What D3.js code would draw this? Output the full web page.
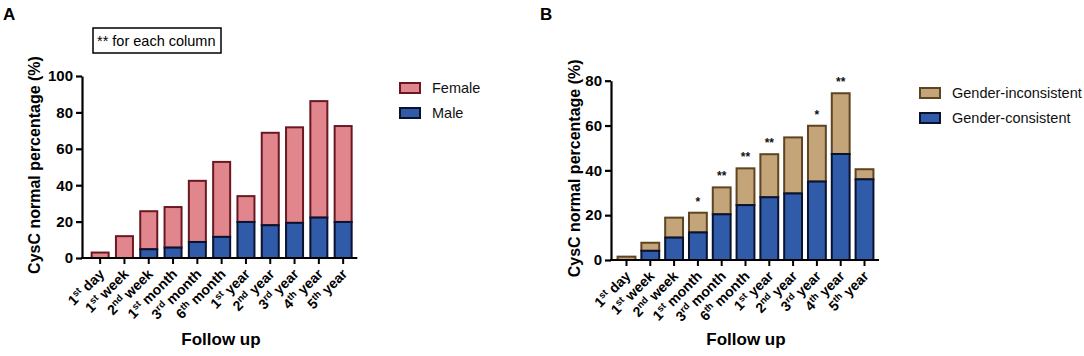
<!DOCTYPE html>
<html>
<head>
<meta charset="utf-8">
<script src="https://cdn.jsdelivr.net/npm/d3@7"></script>
<style>
  body { margin: 0; background: #ffffff; }
  svg { display: block; font-family: "Liberation Sans", Arial, sans-serif; }
</style>
</head>
<body>
<script>
// follow-up time points (shared by both panels)
const followUp = ["1st day", "1st week", "2nd week", "1st month", "3rd month", "6th month",
                  "1st year", "2nd year", "3rd year", "4th year", "5th year"];

// panel A: stacked segments
const maleA   = [0, 0, 4.8, 5.7, 8.8, 11.6, 19.8, 18, 19.3, 22.2, 19.8];
const femaleA = [3, 12, 20.9, 22.3, 33.6, 41.2, 14.2, 50.8, 52.5, 64, 52.7];
const ticksA  = [0, 20, 40, 60, 80, 100];

// panel B: stacked segments
const consistentB   = [0, 4.1, 10, 12.3, 20.4, 24.5, 28, 29.7, 35, 47.3, 36];
const inconsistentB = [1.5, 3.6, 8.9, 8.8, 12, 16.4, 19.2, 25, 24.9, 27.1, 4.5];
const starsB        = ["", "", "", "*", "**", "**", "**", "", "*", "**", ""];
const ticksB  = [0, 20, 40, 60, 80];

const W = 1084, H = 356;

const svg = d3.select("body").append("svg")
  .attr("width", W)
  .attr("height", H);

svg.append("rect").attr("width", W).attr("height", H).attr("fill", "#fff");

// ------------------
// one stacked-bar panel
// ------------------
function drawPanel(o) {
  const g = svg.append("g");

  const x = d3.scaleBand()
    .domain(followUp)
    .range(o.xRange)
    .paddingInner(o.padInner)
    .paddingOuter(0.15);

  const y = d3.scaleLinear()
    .domain([0, o.yMax])
    .range([o.y0, o.yTop]);

  const rows = followUp.map((c, i) => ({ cat: c, low: o.low[i], high: o.high[i] }));
  const series = d3.stack().keys(["low", "high"])(rows);

  // upper segment first, so the lower segment's dark border sits on top
  [1, 0].forEach(k => {
    const s = o.styles[k];
    g.append("g")
      .selectAll("rect")
      .data(series[k])
      .join("rect")
      .attr("x", d => x(d.data.cat))
      .attr("width", x.bandwidth())
      .attr("y", d => y(d[1]))
      .attr("height", d => Math.max(0, y(d[0]) - y(d[1])))
      .attr("fill", s.fill)
      .attr("stroke", s.stroke)
      .attr("stroke-width", 2);
  });

  // stars
  if (o.stars) {
    g.append("g")
      .selectAll("text")
      .data(rows)
      .join("text")
      .attr("x", d => x(d.cat) + x.bandwidth() / 2)
      .attr("y", d => y(d.low + d.high) - 7)
      .attr("text-anchor", "middle")
      .attr("font-size", 12)
      .attr("font-weight", "bold")
      .attr("fill", "#111")
      .text((d, i) => o.stars[i]);
  }

  // y axis
  const ya = g.append("g")
    .attr("transform", `translate(${o.axisX},0)`)
    .call(d3.axisLeft(y).tickValues(o.ticks).tickSizeInner(6).tickSizeOuter(0).tickPadding(3));
  ya.select(".domain").attr("stroke-width", 2.2).attr("stroke", "#000");
  ya.selectAll(".tick line").attr("stroke-width", 2.2).attr("stroke", "#000");
  ya.selectAll(".tick text")
    .attr("font-size", 15)
    .attr("font-weight", "bold")
    .attr("font-family", "Liberation Sans, Arial, sans-serif")
    .attr("fill", "#000");

  // x axis
  const xa = g.append("g")
    .attr("transform", `translate(0,${o.y0})`)
    .call(d3.axisBottom(x).tickSizeInner(6).tickSizeOuter(0));
  xa.select(".domain").remove();
  xa.append("line")
    .attr("x1", o.axisX - 1)
    .attr("x2", o.xRange[1] + 2)
    .attr("stroke", "#000")
    .attr("stroke-width", 2.2);
  xa.selectAll(".tick line").attr("stroke-width", 2).attr("stroke", "#000");

  xa.selectAll(".tick text")
    .attr("y", 0)
    .attr("dy", null)
    .attr("text-anchor", "end")
    .attr("transform", "translate(5,17) rotate(-45)")
    .attr("font-size", 14)
    .attr("font-weight", "bold")
    .attr("font-family", "Liberation Sans, Arial, sans-serif")
    .attr("fill", "#000")
    .each(function (d) {
      const m = d.match(/^(\d)(st|nd|rd|th) (.*)$/);
      const t = d3.select(this).text(null);
      t.append("tspan").text(m[1]);
      t.append("tspan").attr("font-size", 9.5).attr("dy", -5).text(m[2]);
      t.append("tspan").attr("dy", 5).text(" " + m[3]);
    });

  // axis titles
  g.append("text")
    .attr("transform", `translate(${o.yTitleX},${(o.y0 + o.yTop) / 2 - 2}) rotate(-90)`)
    .attr("text-anchor", "middle")
    .attr("font-size", 16)
    .attr("font-weight", "bold")
    .text("CysC normal percentage (%)");

  g.append("text")
    .attr("x", o.xTitleX)
    .attr("y", 345)
    .attr("text-anchor", "middle")
    .attr("font-size", 17)
    .attr("font-weight", "bold")
    .text("Follow up");

  // panel letter
  g.append("text")
    .attr("x", o.letterX)
    .attr("y", 20)
    .attr("font-size", 17)
    .attr("font-weight", "bold")
    .text(o.letter);

  // legend (upper series listed first)
  const lg = g.append("g");
  [1, 0].forEach((k, j) => {
    const ly = o.legendY + j * 25;
    lg.append("rect")
      .attr("x", o.legendX)
      .attr("y", ly - 5)
      .attr("width", 20)
      .attr("height", 10)
      .attr("fill", o.styles[k].fill)
      .attr("stroke", o.styles[k].stroke)
      .attr("stroke-width", 2);
    lg.append("text")
      .attr("x", o.legendX + 32)
      .attr("y", ly + 5)
      .attr("font-size", 14.5)
      .attr("fill", "#111")
      .text(o.names[k]);
  });

  return g;
}

const blue = { fill: "#2f5ba9", stroke: "#0b1230" };

const gA = drawPanel({
  letter: "A", letterX: 3,
  low: maleA, high: femaleA, names: ["Male", "Female"],
  styles: [blue, { fill: "#e0868c", stroke: "#6a1822" }],
  xRange: [88, 355.3], padInner: 0.3,
  y0: 258, yTop: 76, yMax: 100, ticks: ticksA, axisX: 82,
  yTitleX: 40, xTitleX: 221,
  legendX: 400, legendY: 88
});

// note box in panel A
gA.append("rect")
  .attr("x", 93).attr("y", 28)
  .attr("width", 128).attr("height", 25)
  .attr("fill", "none")
  .attr("stroke", "#000")
  .attr("stroke-width", 1.5);
gA.append("text")
  .attr("x", 97).attr("y", 45.5)
  .attr("font-size", 14.5)
  .attr("fill", "#000")
  .text("** for each column");

drawPanel({
  letter: "B", letterX: 540,
  low: consistentB, high: inconsistentB, names: ["Gender-consistent", "Gender-inconsistent"],
  styles: [blue, { fill: "#c4a57a", stroke: "#5e4420" }],
  stars: starsB,
  xRange: [614, 877], padInner: 0.25,
  y0: 260, yTop: 80.7, yMax: 80, ticks: ticksB, axisX: 611,
  yTitleX: 580, xTitleX: 746,
  legendX: 920, legendY: 93
});
</script>
</body>
</html>
